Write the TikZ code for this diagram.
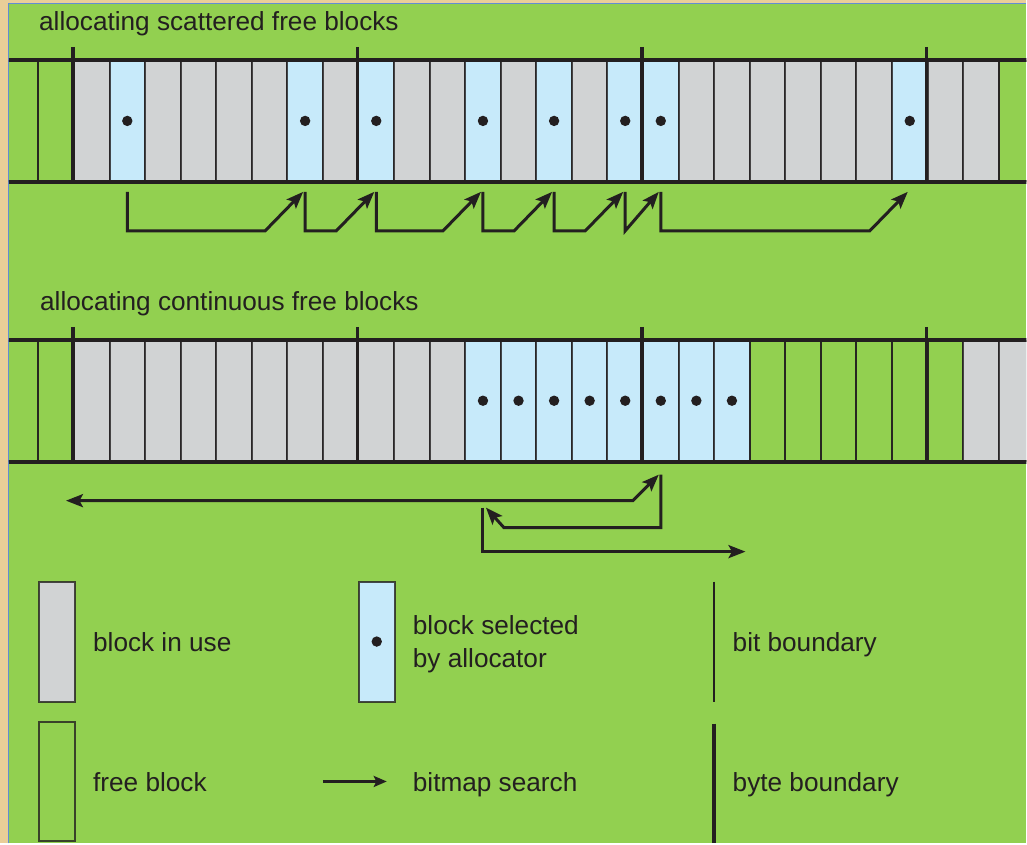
\documentclass[tikz,border=0pt]{standalone}
\usepackage{fontspec}
\setmainfont{Liberation Sans}
\usetikzlibrary{arrows.meta, calc}

\definecolor{ink}{RGB}{35,31,32}
\definecolor{leaf}{RGB}{146,208,80}
\definecolor{usedgray}{RGB}{209,211,212}
\definecolor{pickblue}{RGB}{199,234,250}
\definecolor{parch}{RGB}{233,206,152}
\definecolor{edgeblue}{RGB}{98,140,212}

\tikzset{
  >={Stealth[length=17pt, width=13pt, inset=3.5pt]},
  cell/.style = {draw = ink, draw opacity = .8, line width = 2pt, inner sep = 0pt,
                 minimum width = 35.59pt, minimum height = 120pt},
  free/.style = {cell},
  used/.style = {cell, fill = usedgray},
  pick/.style = {cell, fill = pickblue,
                 path picture = {\fill[ink] (path picture bounding box.center) circle (5.2pt);}},
  rail/.style = {draw = ink, line width = 3.8pt},
  search/.style = {draw = ink, line width = 3pt, ->},
  note/.style = {anchor = base west, inner sep = 0pt, text = ink}
}

\begin{document}
\begin{tikzpicture}[x = 1pt, y = -1pt, font = \fontsize{26.2}{33}\selectfont]
  \fill[parch] (0,0) rectangle (1027,844);
  \fill[leaf] (8,3) rectangle (1027,844);
  \draw[edgeblue, line width = 1.4pt] (8.5,844) -- (8.5,3.5) -- (1027,3.5);
  \useasboundingbox (0,0) rectangle (1027,844);

  \coordinate (hi1) at (0,192);
  \coordinate (lo1) at (0,231);
  \coordinate (hi2) at (0,475);
  \coordinate (hi3) at (0,508);
  \coordinate (mid2) at (0,528);
  \coordinate (lo2) at (0,552);
  \coordinate (far) at (66,501);
  \coordinate (stop) at (746,552);

  \node[note] (title1) at (39,31) {allocating scattered free blocks};
  \node[note] (title2) at (40,311) {allocating continuous free blocks};

  \begin{scope}
    \clip (9,4) rectangle (1027,844);
    \foreach \t [count = \i from -2] in {free,free,
        used,pick,used,used,used,used,pick,used,
        pick,used,used,pick,used,pick,used,pick,
        pick,used,used,used,used,used,used,pick,
        used,used,free}
      \node[\t] (a\i) at ({74+(\i+0.5)*35.59},121) {};
    \foreach \t [count = \i from -2] in {free,free,
        used,used,used,used,used,used,used,used,
        used,used,used,pick,pick,pick,pick,pick,
        pick,pick,pick,free,free,free,free,free,
        free,used,used}
      \node[\t] (b\i) at ({74+(\i+0.5)*35.59},401) {};
    \draw[rail] (a-2.north west) -- (a26.north east)
                (a-2.south west) -- (a26.south east)
                (b-2.north west) -- (b26.north east)
                (b-2.south west) -- (b26.south east);
  \end{scope}

  \foreach \i in {0,8,16,24}
    \draw[rail] ([yshift = 13pt]a\i.north west) -- (a\i.south west)
                ([yshift = 13pt]b\i.north west) -- (b\i.south west);

  \foreach \a/\b in {1/6, 6/8, 8/11, 11/13, 13/15, 16/23}
    \draw[search] (a\a |- hi1) -- (a\a |- lo1) -- ($(a\b |- lo1)+(-40,0)$) -- ($(a\b |- hi1)+(-2,0)$);
  \draw[search] (a15 |- hi1) -- (a15 |- lo1) -- ($(a16 |- hi1)+(-2,0)$);

  \draw[search, <->] (far) -- ($(b16 |- far)+(-28,0)$) -- ($(b16 |- hi2)+(-2,0)$);
  \draw[search] (b16 |- hi2) -- (b16 |- mid2) -- ($(b11 |- mid2)+(21,0)$) -- ($(b11 |- hi3)+(3,0)$);
  \draw[search] (b11 |- hi3) -- (b11 |- lo2) -- (stop);

  \node[used] (key1) at (57,642) {};
  \node[free] (key2) at (57,782) {};
  \node[pick] (key3) at (377,642) {};
  \coordinate (key4a) at (323,782);
  \coordinate (key4b) at (387,782);
  \draw[draw = ink, line width = 2.4pt, -{Stealth[length = 13pt, width = 11pt, inset = 2.5pt]}] (key4a) -- (key4b);
  \coordinate (key5a) at (714.5,582);
  \coordinate (key5b) at (714.5,702);
  \draw[draw = ink, line width = 1.8pt] (key5a) -- (key5b);
  \coordinate (key6a) at (714.5,724);
  \coordinate (key6b) at (714.5,844);
  \draw[draw = ink, line width = 3.4pt] (key6a) -- (key6b);

  \node[note] (used) at (93,652) {block in use};
  \node[note] (freed) at (93,792) {free block};
  \node[note, anchor = west, align = left] (picked) at (413,645) {block selected\\by allocator};
  \node[note] (scan) at (413,792) {bitmap search};
  \node[note] (bit) at (733,652) {bit boundary};
  \node[note] (byte) at (733,792) {byte boundary};
\end{tikzpicture}
\end{document}
